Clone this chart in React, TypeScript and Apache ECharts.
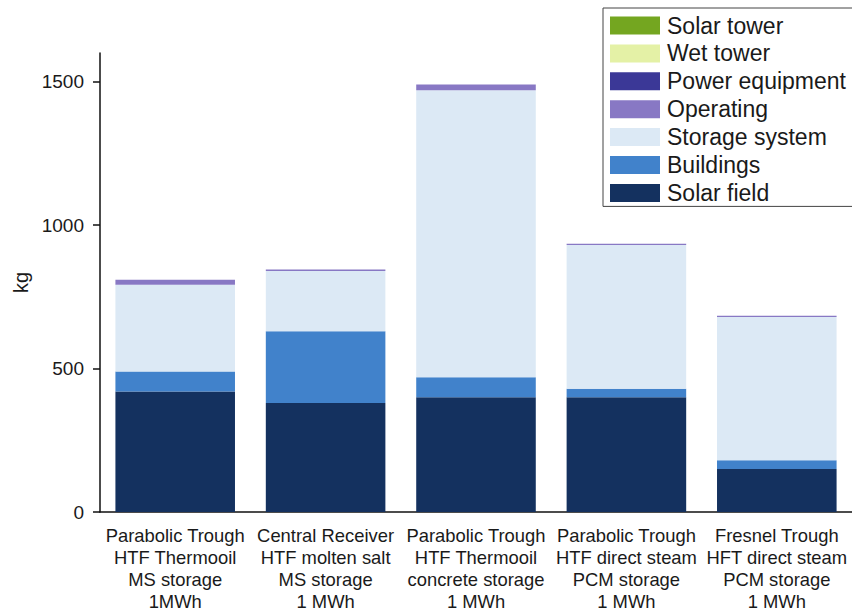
import React, { useEffect, useRef } from "react";
import * as echarts from "echarts";

const categories = [
  "Parabolic Trough\nHTF Thermooil\nMS storage\n1MWh",
  "Central Receiver\nHTF molten salt\nMS storage\n1 MWh",
  "Parabolic Trough\nHTF Thermooil\nconcrete storage\n1 MWh",
  "Parabolic Trough\nHTF direct steam\nPCM storage\n1 MWh",
  "Fresnel Trough\nHFT direct steam\nPCM storage\n1 MWh",
];

const solarField = [420, 380, 400, 400, 150];
const buildings = [70, 250, 70, 30, 30];
const storageSystem = [302, 210, 1000, 501, 500];
const operating = [18, 5, 20, 4, 4];
const powerEquipment = [0, 0, 0, 0, 0];
const wetTower = [0, 0, 0, 0, 0];
const solarTower = [0, 0, 0, 0, 0];

const yTicks = [0, 500, 1000, 1500];

const seriesDefs = [
  { name: "Solar field", data: solarField, color: "#14315f" },
  { name: "Buildings", data: buildings, color: "#4182cb" },
  { name: "Storage system", data: storageSystem, color: "#dce9f5" },
  { name: "Operating", data: operating, color: "#8878c4" },
  { name: "Power equipment", data: powerEquipment, color: "#3b3897" },
  { name: "Wet tower", data: wetTower, color: "#e4f1a6" },
  { name: "Solar tower", data: solarTower, color: "#74a620" },
];

export default function App() {
  const ref = useRef<HTMLDivElement>(null);
  useEffect(() => {
    if (!ref.current) return;
    const chart = echarts.init(ref.current, undefined, { renderer: "svg" });
    const font = "'Liberation Sans', Arial, sans-serif";
    chart.setOption({
      animation: false,
      backgroundColor: "#ffffff",
      textStyle: { fontFamily: font, color: "#1a1a1a" },
      grid: { left: 100, right: -9, top: 53, bottom: 103, containLabel: false },
      legend: {
        orient: "vertical",
        left: 603,
        top: 8,
        padding: [6, 12, 2, 7],
        itemWidth: 50,
        itemHeight: 18,
        itemGap: 4.9,
        borderColor: "#444",
        borderWidth: 1,
        borderRadius: 0,
        backgroundColor: "#ffffff",
        icon: "rect",
        textStyle: { fontSize: 23, color: "#1a1a1a", fontFamily: font, padding: [0, 0, 0, 2] },
        data: seriesDefs.map((s) => s.name).reverse(),
      },
      xAxis: {
        type: "category",
        data: categories,
        axisLine: { lineStyle: { color: "#111", width: 1.5 } },
        axisTick: { alignWithLabel: true, length: 7, lineStyle: { color: "#111", width: 1.5 } },
        axisLabel: {
          fontSize: 18.4,
          lineHeight: 22,
          color: "#1a1a1a",
          margin: 12,
          interval: 0,
          fontFamily: font,
        },
      },
      yAxis: {
        type: "value",
        min: 0,
        max: 1600,
        interval: 500,
        name: "kg",
        nameLocation: "middle",
        nameGap: 60,
        nameTextStyle: { fontSize: 20, color: "#1a1a1a", fontFamily: font },
        splitLine: { show: false },
        axisLine: { show: true, lineStyle: { color: "#111", width: 1.5 } },
        axisTick: { show: true, length: 7, customValues: yTicks, lineStyle: { color: "#111", width: 1.5 } },
        axisLabel: {
          fontSize: 19,
          color: "#1a1a1a",
          margin: 16,
          customValues: yTicks,
          fontFamily: font,
          formatter: (v: number) => String(v),
        },
      },
      series: seriesDefs.map((s) => ({
        name: s.name,
        type: "bar",
        stack: "total",
        data: s.data,
        barWidth: "79.5%",
        itemStyle: { color: s.color },
      })),
    });
    return () => chart.dispose();
  }, []);
  return (
    <div
      ref={ref}
      style={{ position: "absolute", left: 0, top: 0, width: 852, height: 615 }}
    />
  );
}
